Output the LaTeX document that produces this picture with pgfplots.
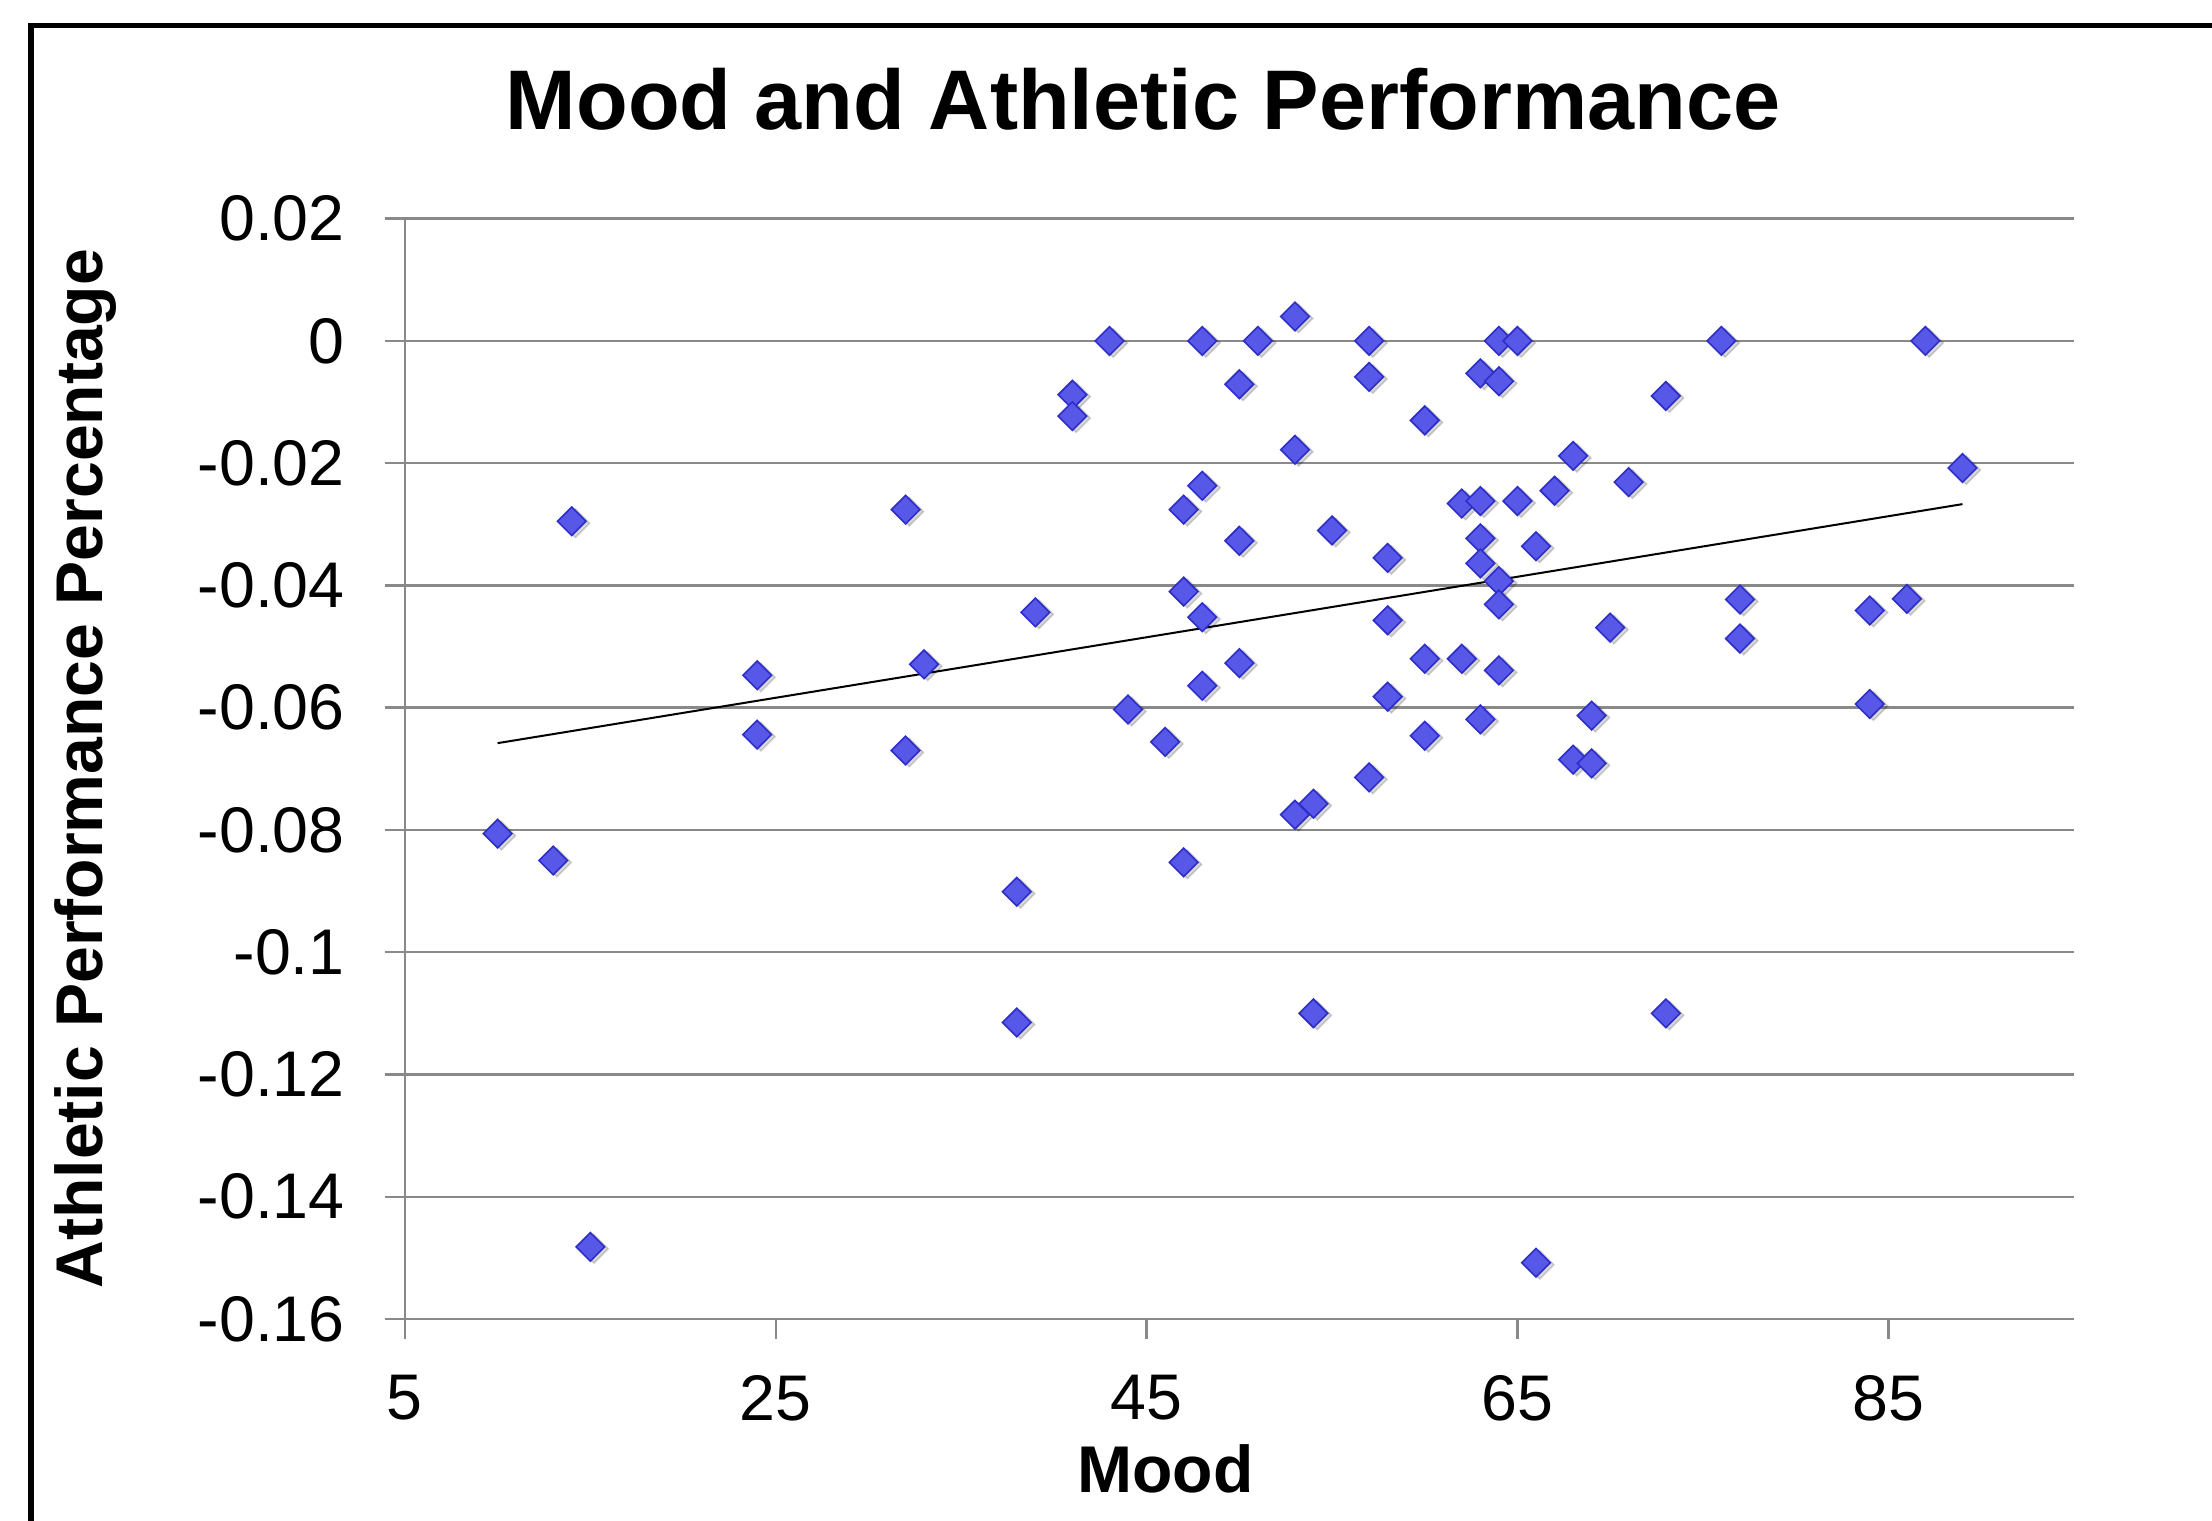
\documentclass[border=0pt]{standalone}
\usepackage{fontspec}
\setmainfont{Liberation Sans}
\usepackage{pgfplots}
\usepackage{pgfplotstable}
\pgfplotsset{compat=1.18}
\definecolor{gridgray}{RGB}{137,137,137}
\definecolor{markfill}{RGB}{88,88,232}
\definecolor{markdraw}{RGB}{45,45,200}
\pgfplotstableread{
x y
10 -0.0806
13 -0.0850
14 -0.0295
15 -0.1482
24 -0.0547
24 -0.0644
32 -0.0276
32 -0.0670
33 -0.0529
38 -0.0901
38 -0.1115
39 -0.0444
41 -0.0088
41 -0.0123
43 0
44 -0.0603
46 -0.0656
47 -0.0276
47 -0.0410
47 -0.0853
48 0
48 -0.0237
48 -0.0452
48 -0.0564
50 -0.0071
50 -0.0327
50 -0.0527
51 0
53 0.0040
53 -0.0178
53 -0.0775
54 -0.0757
54 -0.1100
55 -0.0310
57 0
57 -0.0059
57 -0.0714
58 -0.0355
58 -0.0457
58 -0.0582
60 -0.0130
60 -0.0520
60 -0.0646
62 -0.0266
62 -0.0520
63 -0.0053
63 -0.0262
63 -0.0323
63 -0.0364
63 -0.0619
64 0
64 -0.0066
64 -0.0393
64 -0.0431
64 -0.0539
65 0
65 -0.0262
66 -0.0336
66 -0.1508
67 -0.0245
68 -0.0188
68 -0.0685
69 -0.0613
69 -0.0691
70 -0.0469
71 -0.0231
73 -0.0090
73 -0.1100
76 0
77 -0.0423
77 -0.0487
84 -0.0441
84 -0.0594
86 -0.0422
87 0
89 -0.0208
}\mooddata
\begin{document}
\begin{tikzpicture}
\useasboundingbox (0,0) rectangle (548.8pt,377.3pt);
\fill[white] (0,0) rectangle (548.8pt,377.3pt);
\draw[line width=1.3pt] (7.7pt,0) -- (7.7pt,371pt) -- (548.8pt,371pt);
\begin{axis}[
  at={(100.45pt,50.05pt)}, anchor=south west,
  scale only axis, width=414.05pt, height=273pt,
  xmin=5, xmax=95, ymin=-0.16, ymax=0.02,
  axis x line*=bottom, axis y line*=left,
  axis line style={gridgray, line width=0.6pt, -},
  xtick={5,25,45,65,85}, xticklabels={5,25,45,65,85},
  ytick={-0.16,-0.14,-0.12,-0.1,-0.08,-0.06,-0.04,-0.02,0,0.02},
  yticklabels={-0.16,-0.14,-0.12,-0.1,-0.08,-0.06,-0.04,-0.02,0,0.02},
  tick style={gridgray, line width=0.6pt},
  tick align=outside, major tick length=5pt,
  ymajorgrids, grid style={gridgray, line width=0.6pt},
  tick label style={font=\fontsize{16}{16}\selectfont, text=black},
  yticklabel style={xshift=-6.4pt},
  xticklabel style={yshift=-5.4pt},
  clip=false,
]
\addplot[only marks, mark=square*, mark size=2.5pt,
  mark options={rotate=45, fill=black, draw=none, opacity=0.15, yshift=-1pt, xshift=0.3pt}]
  table[x=x, y=y] {\mooddata};
\addplot[only marks, mark=square*, mark size=2.5pt,
  mark options={rotate=45, fill=markfill, draw=markdraw, line width=0.4pt}]
  table[x=x, y=y] {\mooddata};
\addplot[black, line width=0.5pt, no marks] coordinates {(10,-0.0658) (89,-0.0267)};
\end{axis}
\node[anchor=base, font=\fontsize{21}{21}\selectfont\bfseries] at (283.6pt,345.1pt) {Mood and Athletic Performance};
\node[anchor=base, font=\fontsize{16.4}{16.4}\selectfont\bfseries, inner sep=0pt] at (289.1pt,7pt) {Mood};
\node[anchor=base, rotate=90, font=\fontsize{16.4}{16.4}\selectfont\bfseries, inner sep=0pt] at (25.5pt,186.6pt) {Athletic Performance Percentage};
\end{tikzpicture}
\end{document}
